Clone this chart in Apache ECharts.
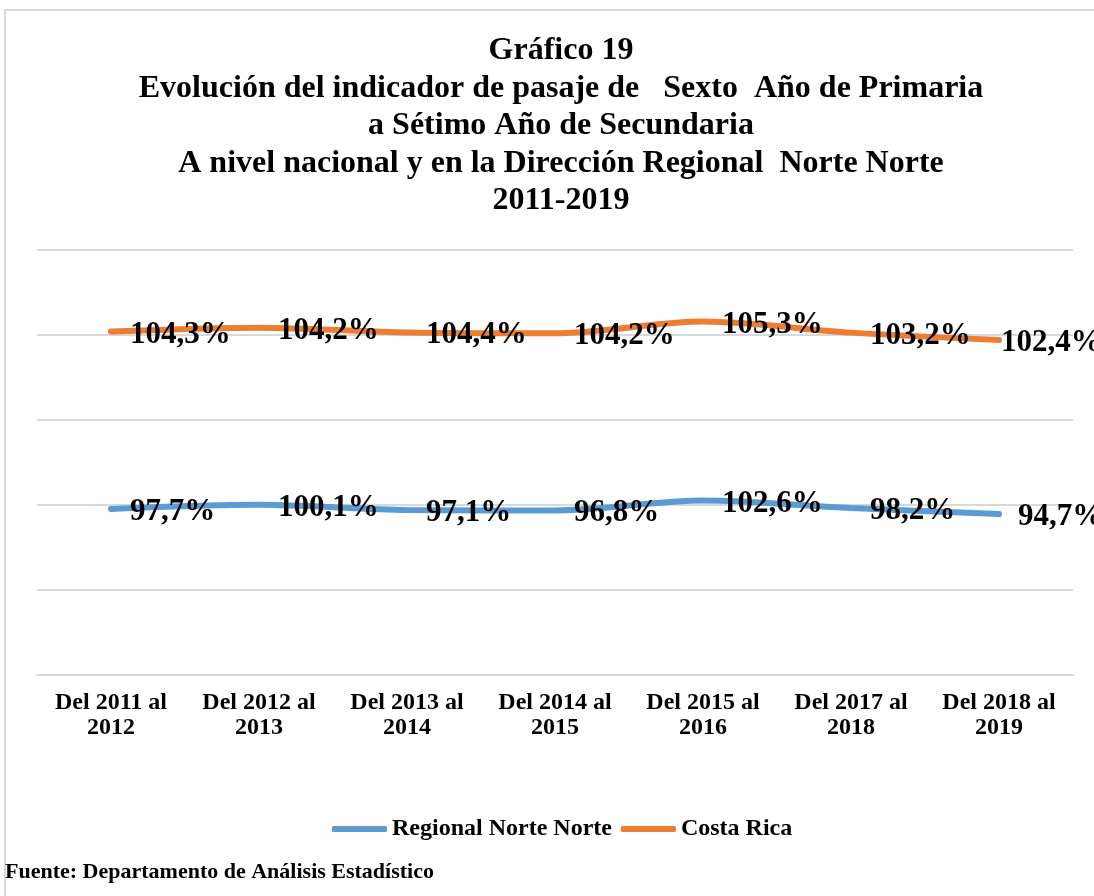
<!DOCTYPE html>
<html>
<head>
<meta charset="utf-8">
<script src="https://cdn.jsdelivr.net/npm/echarts@6/dist/echarts.min.js"></script>
<style>
  html, body { margin: 0; padding: 0; background: #fff; }
  #chart { width: 1094px; height: 896px; }
</style>
</head>
<body>
<div id="chart"></div>
<script>
// periodos del indicador
var periodos = ['Del 2011 al\n2012', 'Del 2012 al\n2013', 'Del 2013 al\n2014', 'Del 2014 al\n2015',
                'Del 2015 al\n2016', 'Del 2017 al\n2018', 'Del 2018 al\n2019'];
var regionalNorte = [97.7, 100.1, 97.1, 96.8, 102.6, 98.2, 94.7];
var costaRica = [104.3, 104.2, 104.4, 104.2, 105.3, 103.2, 102.4];

var serif = '"Liberation Serif", "Times New Roman", serif';

var labelFmt = function (p) {
    return p.value.toFixed(1).replace('.', ',') + '%';
};

// la ultima etiqueta de Costa Rica va mas pegada al punto
var crData = costaRica.map(function (v, i) {
    if (i === costaRica.length - 1) {
        return {value: v, label: {distance: 2}};
    }
    return v;
});

var myChart = echarts.init(document.getElementById('chart'), null, {renderer: 'canvas'});

var option = {
    backgroundColor: '#fff',
    title: {
        text: 'Gráfico 19\nEvolución del indicador de pasaje de   Sexto  Año de Primaria\na Sétimo Año de Secundaria\nA nivel nacional y en la Dirección Regional  Norte Norte\n2011-2019',
        left: 556,
        top: 27,
        textAlign: 'center',
        textStyle: {
            fontFamily: serif,
            fontWeight: 'bold',
            fontSize: 32,
            lineHeight: 37.5,
            color: '#000'
        }
    },
    legend: {
        data: ['Regional Norte Norte', 'Costa Rica'],
        left: 327,
        top: 812,
        icon: 'roundRect',
        itemWidth: 55,
        itemHeight: 6,
        itemGap: 9,
        textStyle: {
            fontFamily: serif,
            fontWeight: 'bold',
            fontSize: 24,
            color: '#000'
        }
    },
    grid: {
        left: 37,
        right: 21,
        top: 250,
        bottom: 221,
        containLabel: false
    },
    xAxis: {
        type: 'category',
        data: periodos,
        boundaryGap: true,
        axisLine: {lineStyle: {color: '#d9d9d9', width: 2}},
        axisTick: {show: false},
        axisLabel: {
            margin: 15,
            fontFamily: serif,
            fontWeight: 'bold',
            fontSize: 24,
            lineHeight: 25,
            color: '#000'
        }
    },
    yAxis: {
        type: 'value',
        min: 0,
        max: 250,
        interval: 50,
        axisLabel: {show: false},
        axisLine: {show: false},
        axisTick: {show: false},
        splitLine: {lineStyle: {color: '#d9d9d9', width: 2}}
    },
    series: [
        {
            name: 'Regional Norte Norte',
            type: 'line',
            stack: 'total',
            data: regionalNorte,
            smooth: 0.3,
            symbol: 'circle',
            symbolSize: 0,
            lineStyle: {color: '#5b9bd5', width: 6, cap: 'round'},
            itemStyle: {color: '#5b9bd5'},
            label: {
                show: true,
                position: 'right',
                distance: 19,
                offset: [0, 3],
                formatter: labelFmt,
                fontFamily: serif,
                fontWeight: 'bold',
                fontSize: 31,
                color: '#000'
            },
            z: 3
        },
        {
            name: 'Costa Rica',
            type: 'line',
            stack: 'total',
            data: crData,
            smooth: 0.3,
            symbol: 'circle',
            symbolSize: 0,
            lineStyle: {color: '#ed7d31', width: 6, cap: 'round'},
            itemStyle: {color: '#ed7d31'},
            label: {
                show: true,
                position: 'right',
                distance: 19,
                offset: [0, 3],
                formatter: labelFmt,
                fontFamily: serif,
                fontWeight: 'bold',
                fontSize: 31,
                color: '#000'
            },
            z: 3
        }
    ],
    graphic: [
        {
            type: 'polyline',
            shape: {points: [[5, 900], [5, 10], [1100, 10]]},
            style: {stroke: '#d9d9d9', lineWidth: 2, fill: null}
        },
        {
            type: 'text',
            left: 5,
            top: 861,
            style: {
                text: 'Fuente: Departamento de Análisis Estadístico',
                font: 'bold 22px ' + serif,
                fill: '#000'
            }
        }
    ]
};

myChart.setOption(option);
</script>
</body>
</html>
